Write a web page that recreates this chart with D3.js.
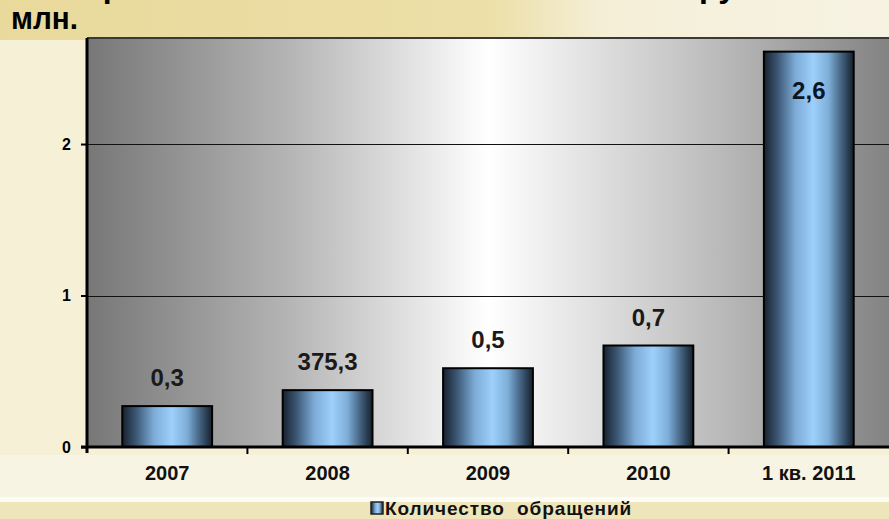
<!DOCTYPE html>
<html>
<head>
<meta charset="utf-8">
<script src="https://cdn.jsdelivr.net/npm/d3@7.9.0/dist/d3.min.js"></script>
<style>
  html, body { margin: 0; padding: 0; overflow: hidden; }
  body { width: 889px; height: 519px; font-family: "Liberation Sans", Arial, sans-serif; }
  text { font-family: "Liberation Sans", Arial, sans-serif; font-weight: bold; }
</style>
</head>
<body>
<svg id="chart" width="889" height="519"></svg>
<script>
// data
const categories = ['2007', '2008', '2009', '2010', '1 кв. 2011'];
const values = [0.27, 0.3753, 0.52, 0.67, 2.61];
const valueLabels = ['0,3', '375,3', '0,5', '0,7', '2,6'];
const yTicks = [0, 1, 2];
const seriesName = 'Количество  обращений';

const W = 889, H = 519;
const plot = { left: 87, right: 889, top: 38, bottom: 447 };

const svg = d3.select('#chart');
const defs = svg.append('defs');

function hGrad(id, stops) {
  const g = defs.append('linearGradient').attr('id', id)
    .attr('x1', '0%').attr('x2', '100%').attr('y1', '0%').attr('y2', '0%');
  stops.forEach(([o, c]) => g.append('stop').attr('offset', o).attr('stop-color', c));
}

hGrad('topBand', [[0, '#e9d99b'], [0.55, '#ecdfa8'], [0.68, '#f5efd8'], [1, '#f7f3e3']]);
hGrad('plotBg', [[0, '#777777'], [0.25, '#b4b4b4'], [0.5, '#ffffff'], [0.75, '#c4c4c4'], [1, '#838383']]);
hGrad('barFill', [[0, '#17212c'], [0.15, '#3b5673'], [0.35, '#7cabd6'], [0.55, '#9dd0fb'],
  [0.72, '#7eaed8'], [0.88, '#3d5a77'], [1, '#16202a']]);

// page background
svg.append('rect').attr('width', W).attr('height', H).attr('fill', '#f6f0d7');
svg.append('rect').attr('width', W).attr('height', 40).attr('fill', 'url(#topBand)');
svg.append('rect').attr('y', 455).attr('width', W).attr('height', 45).attr('fill', '#f8f4e3');
svg.append('rect').attr('y', 497).attr('width', W).attr('height', 5).attr('fill', '#fcfbf4');
svg.append('rect').attr('y', 502).attr('width', W).attr('height', 17).attr('fill', '#efe5bb');

// title (its first line is cut off by the top edge)
svg.append('text').attr('x', 3).attr('y', -3).attr('font-size', 32).attr('fill', '#000')
  .text('Итоги работы в течение 2007 – 2011 гг. и нагрузка');
svg.append('text').attr('x', 11).attr('y', 29).attr('font-size', 32).attr('fill', '#000')
  .attr('textLength', 67).attr('lengthAdjust', 'spacingAndGlyphs')
  .text('млн.');

const x = d3.scaleBand().domain(categories).range([plot.left, plot.right])
  .paddingInner(0.44).paddingOuter(0.22);
const y = d3.scaleLinear().domain([0, 2.7]).range([plot.bottom, plot.top]);

// plot area
svg.append('rect').attr('x', plot.left).attr('y', plot.top)
  .attr('width', plot.right - plot.left).attr('height', plot.bottom - plot.top)
  .attr('fill', 'url(#plotBg)');
svg.append('line').attr('x1', plot.left).attr('x2', plot.right)
  .attr('y1', plot.top).attr('y2', plot.top).attr('stroke', '#3a3a3a').attr('stroke-width', 2);

// gridlines
svg.append('g').selectAll('line').data(yTicks.filter(d => d > 0)).join('line')
  .attr('x1', plot.left).attr('x2', plot.right)
  .attr('y1', d => Math.round(y(d)) + 0.5).attr('y2', d => Math.round(y(d)) + 0.5)
  .attr('stroke', '#111').attr('stroke-width', 1);

// bars
svg.append('g').selectAll('rect').data(values).join('rect')
  .attr('x', (d, i) => x(categories[i]))
  .attr('y', d => y(d))
  .attr('width', x.bandwidth())
  .attr('height', d => plot.bottom - y(d))
  .attr('fill', 'url(#barFill)')
  .attr('stroke', '#000').attr('stroke-width', 2);

// value labels
svg.append('g').selectAll('text').data(values).join('text')
  .attr('x', (d, i) => x(categories[i]) + x.bandwidth() / 2)
  .attr('y', (d, i) => i === values.length - 1 ? y(d) + 47 : y(d) - 20)
  .attr('text-anchor', 'middle').attr('font-size', 24)
  .attr('fill', (d, i) => i === values.length - 1 ? '#0b1624' : '#1a1a1a')
  .text((d, i) => valueLabels[i]);

// y axis
const yAxis = d3.axisLeft(y).tickValues(yTicks).tickSize(6).tickPadding(10)
  .tickFormat(d3.format('d'));
const yg = svg.append('g').attr('transform', `translate(${plot.left},0)`).call(yAxis);
yg.select('.domain').remove();
yg.selectAll('.tick line').attr('stroke', '#000').attr('stroke-width', 2);
yg.selectAll('.tick text').attr('font-size', 16).attr('fill', '#000')
  .attr('font-family', '"Liberation Sans", Arial, sans-serif').attr('font-weight', 'bold');
svg.append('line').attr('x1', plot.left).attr('x2', plot.left)
  .attr('y1', plot.top).attr('y2', plot.bottom + 6).attr('stroke', '#000').attr('stroke-width', 3);

// x axis
svg.append('line').attr('x1', plot.left - 6).attr('x2', plot.right)
  .attr('y1', plot.bottom).attr('y2', plot.bottom).attr('stroke', '#000').attr('stroke-width', 3);
const gap = x.paddingInner() * x.step() / 2;
svg.append('g').selectAll('line').data(categories.slice(1)).join('line')
  .attr('x1', d => x(d) - gap)
  .attr('x2', d => x(d) - gap)
  .attr('y1', plot.bottom).attr('y2', plot.bottom + 7)
  .attr('stroke', '#000').attr('stroke-width', 2);
svg.append('g').selectAll('text').data(categories).join('text')
  .attr('x', d => x(d) + x.bandwidth() / 2)
  .attr('y', 480)
  .attr('text-anchor', 'middle').attr('font-size', 20).attr('fill', '#111')
  .text(d => d);

// legend
const lg = svg.append('g').attr('transform', 'translate(371,502)');
lg.append('rect').attr('width', 12).attr('height', 12)
  .attr('fill', 'url(#barFill)').attr('stroke', '#222').attr('stroke-width', 1.5);
lg.append('text').attr('x', 14).attr('y', 13).attr('font-size', 19).attr('fill', '#111')
  .attr('letter-spacing', 0.9).style('white-space', 'pre')
  .text(seriesName);
</script>
</body>
</html>
